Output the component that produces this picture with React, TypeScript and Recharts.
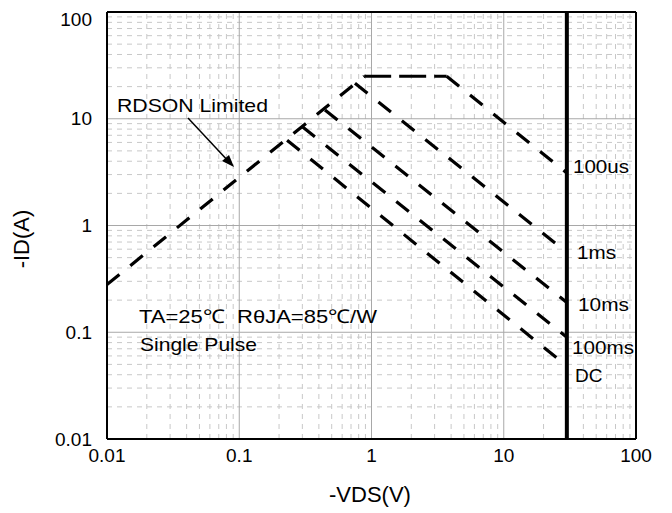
import { LineChart, Line, XAxis, YAxis, ReferenceLine } from 'recharts';

// axis ticks
const decades = [0.01, 0.1, 1, 10, 100];
const minorSteps = [2, 3, 4, 5, 6, 7, 8, 9];

// SOA boundary segments (x = -VDS in V, y = -ID in A)
const rdsonLimit = [
  { x: 0.01, y: 0.28 },
  { x: 0.88, y: 25 },
];
const currentLimit = [
  { x: 0.88, y: 25 },
  { x: 3.7, y: 25 },
];
const pulse100us = [
  { x: 3.7, y: 25 },
  { x: 30, y: 3.1 },
];
const pulse1ms = [
  { x: 0.75, y: 21.5 },
  { x: 30, y: 0.56 },
];
const pulse10ms = [
  { x: 0.445, y: 12.1 },
  { x: 30, y: 0.19 },
];
const pulse100ms = [
  { x: 0.3, y: 8.4 },
  { x: 30, y: 0.09 },
];
const dcCurve = [
  { x: 0.23, y: 6.3 },
  { x: 25, y: 0.058 },
];
const vdsMax = [
  { x: 30, y: 0.01 },
  { x: 30, y: 100 },
];

const minorTicks = decades
  .slice(0, -1)
  .flatMap((d) => minorSteps.map((m) => +(d * m).toPrecision(3)));
const innerDecades = decades.slice(1, -1);

const FONT = 'Arial, "Liberation Sans", sans-serif';
const DASH = '16 14';

const App = () => {
  const tickStyle = { fill: '#000', fontSize: 19, fontFamily: FONT };

  return (
    <div style={{ position: 'relative', width: 656, height: 505 }}>
      <LineChart
        width={656}
        height={505}
        margin={{ top: 4, right: 28, left: 0, bottom: 44 }}
      >
        <XAxis
          type="number"
          dataKey="x"
          scale="log"
          domain={[0.01, 100]}
          ticks={decades}
          allowDataOverflow
          tickFormatter={(v) => String(v)}
          tick={tickStyle}
          tickLine={false}
          tickMargin={4}
          height={30}
          axisLine={{ stroke: '#000', strokeWidth: 2 }}
        />
        <YAxis
          type="number"
          dataKey="y"
          scale="log"
          domain={[0.01, 100]}
          ticks={decades}
          allowDataOverflow
          tickFormatter={(v) => String(v)}
          tick={tickStyle}
          tickLine={false}
          tickMargin={9}
          width={99}
          axisLine={{ stroke: '#000', strokeWidth: 2 }}
        />

        {/* minor grid */}
        {minorTicks.map((v) => (
          <ReferenceLine key={'mx' + v} x={v} stroke="#c8c8c8" strokeDasharray="5 5" />
        ))}
        {minorTicks.map((v) => (
          <ReferenceLine key={'my' + v} y={v} stroke="#c8c8c8" strokeDasharray="5 5" />
        ))}
        {/* major grid */}
        {innerDecades.map((v) => (
          <ReferenceLine key={'Mx' + v} x={v} stroke="#a8a8a8" />
        ))}
        {innerDecades.map((v) => (
          <ReferenceLine key={'My' + v} y={v} stroke="#a8a8a8" />
        ))}

        <Line data={rdsonLimit} dataKey="y" name="rdson" stroke="#000" strokeWidth={3.2} strokeDasharray={DASH} dot={false} isAnimationActive={false} />
        <Line data={currentLimit} dataKey="y" name="idm" stroke="#000" strokeWidth={3.2} strokeDasharray="27 8" dot={false} isAnimationActive={false} />
        <Line data={pulse100us} dataKey="y" name="100us" stroke="#000" strokeWidth={3.2} strokeDasharray={DASH} dot={false} isAnimationActive={false} />
        <Line data={pulse1ms} dataKey="y" name="1ms" stroke="#000" strokeWidth={3.2} strokeDasharray={DASH} dot={false} isAnimationActive={false} />
        <Line data={pulse10ms} dataKey="y" name="10ms" stroke="#000" strokeWidth={3.2} strokeDasharray={DASH} dot={false} isAnimationActive={false} />
        <Line data={pulse100ms} dataKey="y" name="100ms" stroke="#000" strokeWidth={3.2} strokeDasharray={DASH} dot={false} isAnimationActive={false} />
        <Line data={dcCurve} dataKey="y" name="DC" stroke="#000" strokeWidth={3.2} strokeDasharray={DASH} dot={false} isAnimationActive={false} />
        <Line data={vdsMax} dataKey="y" name="vdsmax" stroke="#000" strokeWidth={4} dot={false} isAnimationActive={false} />

        {/* plot frame, top and right */}
        <ReferenceLine x={100} stroke="#000" strokeWidth={2} />
        <ReferenceLine y={100} stroke="#000" strokeWidth={2} />
      </LineChart>

      <svg
        width={656}
        height={505}
        style={{ position: 'absolute', left: 0, top: 0, pointerEvents: 'none' }}
        fontFamily={FONT}
        fill="#000"
      >
        <text x={362} y={494} fontSize={22} textAnchor="middle">-VDS(V)</text>
        <text x={13} y={231} fontSize={22} textAnchor="middle" transform="rotate(-90 13 231)" dy="0.35em">-ID(A)</text>

        <text x={109} y={104} fontSize={19} textLength={151} lengthAdjust="spacingAndGlyphs">RDSON Limited</text>
        <line x1={180} y1={110} x2={222} y2={155} stroke="#000" strokeWidth={1.5} />
        <polygon points="226,159 214,153 221,147" fill="#000" />

        <text x={131} y={315} fontSize={19} textLength={238} lengthAdjust="spacingAndGlyphs" style={{ whiteSpace: 'pre' }}>
          {'TA=25℃\u00a0\u00a0RθJA=85℃/W'}
        </text>
        <text x={132} y={343} fontSize={19} textLength={117} lengthAdjust="spacingAndGlyphs">Single Pulse</text>

        <text x={565} y={165} fontSize={19} textLength={56} lengthAdjust="spacingAndGlyphs">100us</text>
        <text x={569} y={251} fontSize={19} textLength={39} lengthAdjust="spacingAndGlyphs">1ms</text>
        <text x={570} y={303} fontSize={19} textLength={51} lengthAdjust="spacingAndGlyphs">10ms</text>
        <text x={564} y={346} fontSize={19} textLength={62} lengthAdjust="spacingAndGlyphs">100ms</text>
        <text x={567} y={374} fontSize={19}>DC</text>
      </svg>
    </div>
  );
};

export default App;
